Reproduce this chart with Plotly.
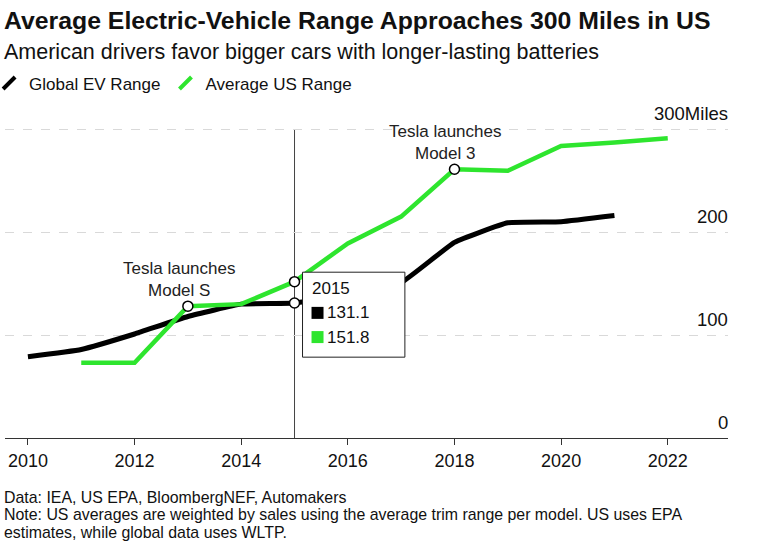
import plotly.graph_objects as go

# ---- data ----
years_global = list(range(2010, 2022))
global_range = [79, 86, 101, 118, 130, 131.1, 140, 151, 190, 209, 210, 216]
years_us = list(range(2011, 2023))
us_range = [73, 73, 128, 130, 151.8, 189, 215, 261, 259.5, 283.5, 287, 291]

x_ticks = list(range(2010, 2023, 2))
y_ticks = [0, 100, 200, 300]
y_tick_labels = ["0", "100", "200", "300Miles"]

hover_year = 2015
event_years = [2013, 2018]
event_labels = ["Tesla launches<br>Model S", "Tesla launches<br>Model 3"]

footnote_lines = [
    "Data: IEA, US EPA, BloombergNEF, Automakers",
    "Note: US averages are weighted by sales using the average trim range per model. US uses EPA",
    "estimates, while global data uses WLTP.",
]

BLACK = "#000000"
GREEN = "#2ee52e"
FONT = "Liberation Sans"

fig = go.Figure()

fig.add_trace(go.Scatter(x=years_global, y=global_range, mode="lines",
                         line=dict(color=BLACK, width=5, shape="spline", smoothing=0.35),
                         showlegend=False, hoverinfo="skip"))
fig.add_trace(go.Scatter(x=years_us, y=us_range, mode="lines",
                         line=dict(color=GREEN, width=4.5),
                         showlegend=False, hoverinfo="skip"))

# legend glyphs
fig.add_trace(go.Scatter(x=[None], y=[None], mode="markers", name="Global EV Range",
                         marker=dict(symbol="line-ne", size=12, line=dict(color=BLACK, width=4))))
fig.add_trace(go.Scatter(x=[None], y=[None], mode="markers", name="Average US Range",
                         marker=dict(symbol="line-ne", size=12, line=dict(color=GREEN, width=4))))

# event markers on US series + hover markers
ev_y = [us_range[years_us.index(y)] for y in event_years]
hv_g = global_range[years_global.index(hover_year)]
hv_u = us_range[years_us.index(hover_year)]
fig.add_trace(go.Scatter(x=event_years + [hover_year, hover_year], y=ev_y + [hv_g, hv_u],
                         mode="markers", showlegend=False, hoverinfo="skip",
                         marker=dict(symbol="circle", size=10, color="white",
                                     line=dict(color=BLACK, width=1.5))))

annotations = []
for yr, yv, lab in zip(event_years, ev_y, event_labels):
    annotations.append(dict(x=yr, y=yv, xref="x", yref="y", text=lab, showarrow=False,
                            xanchor="center", yanchor="bottom", yshift=4, xshift=-9,
                            font=dict(size=17, color="#222", family=FONT)))

# hover box text
annotations.append(dict(x=hover_year, y=145, xref="x", yref="y", text=str(hover_year),
                        showarrow=False, xanchor="left", yanchor="middle", xshift=15,
                        font=dict(size=17, color="#111", family=FONT)))
annotations.append(dict(x=hover_year, y=121.5, xref="x", yref="y", text=f"{hv_g}",
                        showarrow=False, xanchor="left", yanchor="middle", xshift=30,
                        font=dict(size=17, color="#111", family=FONT)))
annotations.append(dict(x=hover_year, y=98, xref="x", yref="y", text=f"{hv_u}",
                        showarrow=False, xanchor="left", yanchor="middle", xshift=30,
                        font=dict(size=17, color="#111", family=FONT)))

# y tick labels above gridlines, right-aligned
for v, lab in zip(y_ticks, y_tick_labels):
    annotations.append(dict(x=1, y=v, xref="paper", yref="y", text=lab, showarrow=False,
                            xanchor="right", yanchor="bottom", yshift=3, xshift=2,
                            font=dict(size=18.5, color="#111", family=FONT)))

# titles / footnote
annotations.append(dict(x=0, y=1.343, xref="paper", yref="paper", xanchor="left", yanchor="middle",
                        xshift=-3, showarrow=False,
                        text="<b>Average Electric-Vehicle Range Approaches 300 Miles in US</b>",
                        font=dict(size=24.8, color="#111", family=FONT)))
annotations.append(dict(x=0, y=1.240, xref="paper", yref="paper", xanchor="left", yanchor="middle",
                        xshift=-3, showarrow=False,
                        text="American drivers favor bigger cars with longer-lasting batteries",
                        font=dict(size=21.5, color="#111", family=FONT)))
for i, line in enumerate(footnote_lines):
    annotations.append(dict(x=0, y=-0.19 - i * 0.0565, xref="paper", yref="paper",
                            xanchor="left", yanchor="middle", xshift=-3, showarrow=False,
                            text=line, font=dict(size=15.9, color="#111", family=FONT)))

shapes = [
    dict(type="line", xref="x", yref="y", x0=hover_year, x1=hover_year, y0=0, y1=300,
         line=dict(color="#444", width=1), layer="below"),
    dict(type="rect", xref="x", yref="y", x0=hover_year + 0.15, x1=hover_year + 2.07,
         y0=78.5, y1=161, line=dict(color="#222", width=1), fillcolor="white", layer="above"),
    dict(type="rect", xref="x", yref="y", xsizemode="pixel", ysizemode="pixel",
         xanchor=hover_year, yanchor=121.5, x0=17, x1=29, y0=-6, y1=6,
         line=dict(width=0), fillcolor=BLACK, layer="above"),
    dict(type="rect", xref="x", yref="y", xsizemode="pixel", ysizemode="pixel",
         xanchor=hover_year, yanchor=98, x0=17, x1=29, y0=-6, y1=6,
         line=dict(width=0), fillcolor=GREEN, layer="above"),
]

fig.update_layout(
    width=768, height=556,
    margin=dict(l=5, r=40, t=127, b=118, autoexpand=False),
    paper_bgcolor="white", plot_bgcolor="white",
    font=dict(family=FONT, color="#111"),
    showlegend=True,
    legend=dict(orientation="h", x=-0.022, xanchor="left", y=1.140, yanchor="middle",
                font=dict(size=17, family=FONT), itemwidth=30, bgcolor="rgba(0,0,0,0)",
                tracegroupgap=0),
    annotations=annotations,
    shapes=shapes,
    hovermode=False,
)
fig.update_xaxes(range=[2009.57, 2023.13], tickvals=x_ticks, ticks="outside", ticklen=6,
                 tickcolor="#333", showline=True, linecolor="#333", linewidth=1,
                 showgrid=False, zeroline=False, tickfont=dict(size=18, family=FONT))
fig.update_yaxes(range=[0, 302], tickvals=y_ticks, showticklabels=False,
                 showgrid=True, griddash="dash", gridcolor="#d9d9d9", gridwidth=1,
                 zeroline=False, showline=False, ticks="")

fig.write_html("out.html", config={"displayModeBar": False},
               post_script="document.body.style.margin='0';")
